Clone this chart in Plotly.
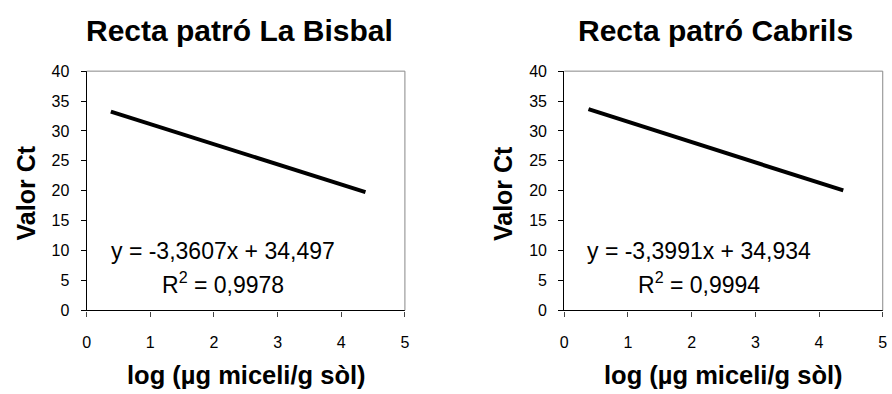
import plotly.graph_objects as go

# ---- data ----
titles = ["Recta patró La Bisbal", "Recta patró Cabrils"]
x_bisbal = [0.38, 4.38]
y_bisbal = [33.22, 19.78]
x_cabrils = [0.38, 4.38]
y_cabrils = [33.64, 20.05]
eq_bisbal = "y = -3,3607x + 34,497"
r2_bisbal = "R<sup>2</sup> = 0,9978"
eq_cabrils = "y = -3,3991x + 34,934"
r2_cabrils = "R<sup>2</sup> = 0,9994"
x_ticks = [0, 1, 2, 3, 4, 5]
y_ticks = [0, 5, 10, 15, 20, 25, 30, 35, 40]
x_title = "log (µg miceli/g sòl)"
y_title = "Valor Ct"

W, H = 892, 394
FONT = "Liberation Sans, Arial, sans-serif"

def px(xp):
    return xp / W

def py(yp):
    return 1 - yp / H

top, bottom = 66, 316
doms = [(83.5, 405.0), (566.0, 887.7)]

fig = go.Figure()
fig.add_trace(go.Scatter(x=x_bisbal, y=y_bisbal, mode="lines",
                         line=dict(color="black", width=4),
                         xaxis="x", yaxis="y", showlegend=False, hoverinfo="skip"))
fig.add_trace(go.Scatter(x=x_cabrils, y=y_cabrils, mode="lines",
                         line=dict(color="black", width=4),
                         xaxis="x2", yaxis="y2", showlegend=False, hoverinfo="skip"))

axis_common = dict(showgrid=False, zeroline=False, showline=True, linecolor="black",
                   linewidth=1.3, ticks="outside", ticklen=5, tickcolor="black",
                   tickfont=dict(family=FONT, size=16, color="black"))

layout = dict(width=W, height=H, margin=dict(l=0, r=0, t=0, b=0),
              paper_bgcolor="white", plot_bgcolor="white", showlegend=False)

for i, (d0, d1) in enumerate(doms):
    sfx = "" if i == 0 else str(i + 1)
    layout["xaxis" + sfx] = dict(axis_common, domain=[px(d0), px(d1)], range=[0, 5],
                                 tickvals=x_ticks, anchor="y" + sfx, tickcolor="#444",
                                 ticklabelstandoff=12)
    layout["yaxis" + sfx] = dict(axis_common, domain=[py(bottom), py(top)], range=[0, 40],
                                 tickvals=y_ticks, anchor="x" + sfx, ticklabelstandoff=8)

fig.update_layout(**layout)

shapes = []
for i in range(2):
    sfx = "" if i == 0 else str(i + 1)
    xr, yr = "x" + sfx + " domain", "y" + sfx + " domain"
    shapes.append(dict(type="line", xref=xr, yref=yr, x0=0, x1=1, y0=1, y1=1,
                       line=dict(color="#888888", width=1)))
    shapes.append(dict(type="line", xref=xr, yref=yr, x0=1, x1=1, y0=0, y1=1,
                       line=dict(color="#888888", width=1)))
fig.update_layout(shapes=shapes)

ann = []
title_cx = [237.5, 718.5]
xt_cx = [244.5, 726.7]
yt_cx = [22.5, 504]
eqs = [(eq_bisbal, r2_bisbal), (eq_cabrils, r2_cabrils)]
eq_x = [2.14, 2.12]
for i in range(2):
    sfx = "" if i == 0 else str(i + 1)
    ann.append(dict(text="<b>" + titles[i] + "</b>", xref="paper", yref="paper",
                    x=px(title_cx[i]), y=py(23), xanchor="center", yanchor="middle",
                    showarrow=False, font=dict(family=FONT, size=30, color="black")))
    ann.append(dict(text="<b>" + x_title + "</b>", xref="paper", yref="paper",
                    x=px(xt_cx[i]), y=py(384), xanchor="center", yanchor="middle",
                    showarrow=False, font=dict(family=FONT, size=25.5, color="black")))
    ann.append(dict(text="<b>" + y_title + "</b>", xref="paper", yref="paper",
                    x=px(yt_cx[i]), y=py(193.5), xanchor="center", yanchor="middle",
                    textangle=-90, showarrow=False,
                    font=dict(family=FONT, size=25, color="black")))
    ann.append(dict(text=eqs[i][0], xref="x" + sfx, yref="y" + sfx,
                    x=eq_x[i], y=9.9, xanchor="center", yanchor="middle",
                    showarrow=False, font=dict(family=FONT, size=23, color="black")))
    ann.append(dict(text=eqs[i][1], xref="x" + sfx, yref="y" + sfx,
                    x=eq_x[i], y=4.6, xanchor="center", yanchor="middle",
                    showarrow=False, font=dict(family=FONT, size=23, color="black")))
fig.update_layout(annotations=ann)

fig.write_html("out.html")
